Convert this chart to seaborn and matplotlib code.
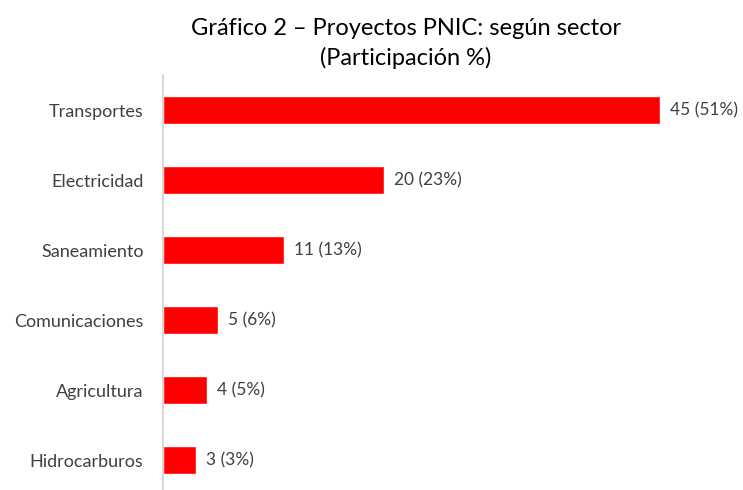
import numpy as np
import pandas as pd
import matplotlib
matplotlib.use("Agg")
import matplotlib.pyplot as plt
import seaborn as sns

# ---------------------------------------------------------------------------
# Data
# ---------------------------------------------------------------------------
sectors = ["Transportes", "Electricidad", "Saneamiento",
           "Comunicaciones", "Agricultura", "Hidrocarburos"]
projects = [45, 20, 11, 5, 4, 3]
shares = [51, 23, 13, 6, 5, 3]

df = pd.DataFrame({"sector": sectors, "projects": projects, "share": shares})

# ---------------------------------------------------------------------------
# Plot
# ---------------------------------------------------------------------------
sns.set_style("white")
plt.rcParams["font.family"] = ["Lato", "DejaVu Sans"]

fig = plt.figure(figsize=(7.43, 4.90), dpi=100)
ax = fig.add_axes([163 / 743, -5 / 490, 557 / 743, 420 / 490])

sns.barplot(data=df, x="projects", y="sector", order=sectors,
            color="#ff0000", saturation=1, width=0.4, ax=ax)

ax.set_xlim(0, 557 / 11.04)
ax.set_ylim(5.5, -0.5)
ax.set_xlabel("")
ax.set_ylabel("")
ax.set_xticks([])
for side in ["top", "right", "bottom"]:
    ax.spines[side].set_visible(False)
ax.spines["left"].set_color("#d0d0d0")
ax.spines["left"].set_linewidth(1.2)
ax.tick_params(axis="y", length=0, pad=14, labelsize=13, labelcolor="#404040")

for i, (n, s) in enumerate(zip(projects, shares)):
    ax.text(n + 0.9, i, f"{n} ({s}%)", va="center", ha="left",
            fontsize=12.5, color="#404040")

fig.text(0.546, 0.912, "Gráfico 2 – Proyectos PNIC: según sector\n(Participación %)",
         ha="center", va="center", fontsize=17, color="black", linespacing=1.45)

fig.savefig("out.png", dpi=100)
